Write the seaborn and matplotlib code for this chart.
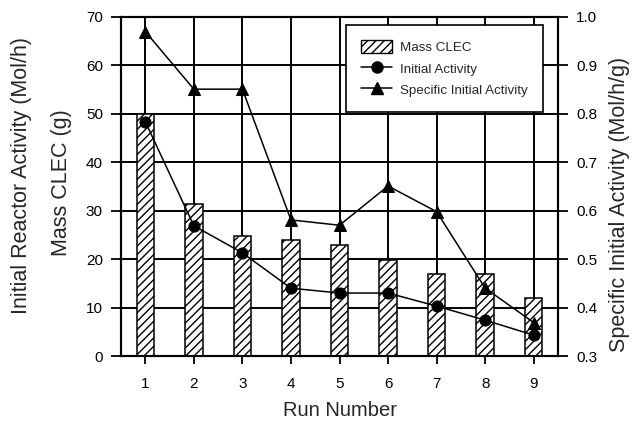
import matplotlib
matplotlib.use("Agg")
import matplotlib.pyplot as plt
import seaborn as sns
from matplotlib.patches import Patch
from matplotlib.lines import Line2D

runs = [1, 2, 3, 4, 5, 6, 7, 8, 9]
mass_clec = [50.0, 31.4, 24.8, 23.9, 22.9, 19.9, 16.9, 16.9, 12.0]
initial_activity = [48.4, 26.9, 21.3, 14.0, 13.0, 13.0, 10.3, 7.4, 4.3]
specific_activity = [0.970, 0.851, 0.851, 0.581, 0.570, 0.651, 0.598, 0.440, 0.369]

left_ticks = [0, 10, 20, 30, 40, 50, 60, 70]
right_ticks = [0.3, 0.4, 0.5, 0.6, 0.7, 0.8, 0.9, 1.0]

sns.set_theme(style="white")
plt.rcParams["font.family"] = ["Liberation Sans", "DejaVu Sans"]
plt.rcParams["hatch.linewidth"] = 1.0

fig = plt.figure(figsize=(6.36, 4.24), dpi=100)
ax = fig.add_axes([121 / 636, 68 / 424, 437 / 636, 339 / 424])

sns.barplot(x=runs, y=mass_clec, native_scale=True, width=0.36, color="white",
            edgecolor="black", linewidth=1.1, hatch="////", errorbar=None,
            ax=ax, zorder=3)

sns.lineplot(x=runs, y=initial_activity, color="black", marker="o",
             markersize=8, markeredgecolor="black", linewidth=1.1,
             ax=ax, zorder=4)

ax.set_xlim(0.5, 9.5)
ax.set_ylim(0, 70)
ax.set_xticks(runs)
ax.set_xticklabels([str(r) for r in runs])
ax.set_yticks(left_ticks)
ax.set_yticklabels([str(t) for t in left_ticks])
ax.grid(True, color="black", linewidth=1.4, zorder=0)
ax.set_axisbelow(True)
ax.set_xlabel("")
ax.set_ylabel("")
for s in ax.spines.values():
    s.set_color("black")
    s.set_linewidth(1.5)

ax2 = ax.twinx()
sns.lineplot(x=runs, y=specific_activity, color="black", marker="^",
             markersize=9, markeredgecolor="black", linewidth=1.1, ax=ax2)
ax2.set_ylim(0.3, 1.0)
ax2.set_yticks(right_ticks)
ax2.set_yticklabels([f"{t:.1f}" for t in right_ticks])
ax2.set_ylabel("")
ax2.grid(False)
for s in ax2.spines.values():
    s.set_color("black")
    s.set_linewidth(1.5)

ax.tick_params(axis="y", direction="out", length=7, width=1.3, colors="black",
               labelsize=11, pad=6, left=True)
ax.tick_params(axis="x", direction="out", length=6, width=1.3, colors="black",
               labelsize=11, pad=9, bottom=True)
ax2.tick_params(axis="y", direction="out", length=7, width=1.3, colors="black",
                labelsize=11, pad=6, right=True)

handles = [
    Patch(facecolor="white", edgecolor="black", hatch="////", linewidth=1.0),
    Line2D([], [], color="black", marker="o", markersize=8, linewidth=1.1),
    Line2D([], [], color="black", marker="^", markersize=9, linewidth=1.1),
]
labels = ["Mass CLEC", "Initial Activity", "Specific Initial Activity"]
leg = ax2.legend(handles, labels, loc="upper right",
                 bbox_to_anchor=(0.966, 0.976), borderaxespad=0,
                 fontsize=9.6, frameon=True, fancybox=False, framealpha=1,
                 edgecolor="black", handlelength=2.3, handleheight=1.1,
                 handletextpad=0.6, borderpad=1.15, labelspacing=0.55)
leg.get_frame().set_linewidth(1.2)

fig.text(22 / 636, 1 - 175 / 424, "Initial Reactor Activity (Mol/h)",
         rotation=90, ha="center", va="center", fontsize=15.5)
fig.text(62 / 636, 1 - 183 / 424, "Mass CLEC (g)",
         rotation=90, ha="center", va="center", fontsize=15.5)
fig.text(620 / 636, 1 - 204 / 424, "Specific Initial Activity (Mol/h/g)",
         rotation=90, ha="center", va="center", fontsize=15.5)
fig.text(340 / 636, 1 - 411 / 424, "Run Number",
         ha="center", va="center", fontsize=14.5)

fig.savefig("out.png", dpi=100)
